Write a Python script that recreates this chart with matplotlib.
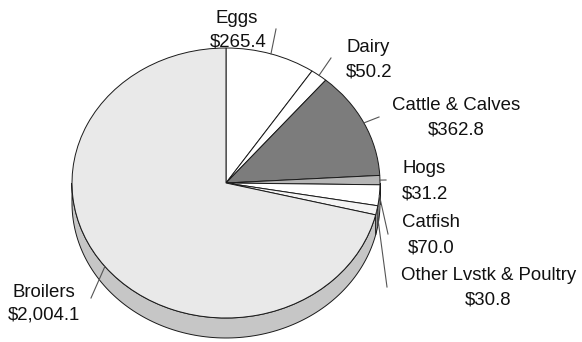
import numpy as np
import matplotlib
matplotlib.use('Agg')
import matplotlib.pyplot as plt
from matplotlib.transforms import Affine2D

# 数据 (百万美元)
categories = ['Eggs', 'Dairy', 'Cattle & Calves', 'Hogs', 'Catfish',
              'Other Lvstk & Poultry', 'Broilers']
values = [265.4, 50.2, 362.8, 31.2, 70.0, 30.8, 2004.1]
value_labels = ['$265.4', '$50.2', '$362.8', '$31.2', '$70.0', '$30.8', '$2,004.1']

# 配色
top_colors = ['#ffffff', '#ffffff', '#7c7c7c', '#b5b5b5', '#ffffff', '#f4f4f4', '#e9e9e9']
side_colors = ['#e0e0e0', '#e0e0e0', '#5a5a5a', '#8f8f8f', '#d8d8d8', '#bdbdbd', '#c6c6c6']

# 椭圆饼图几何 (像素)
CX, CY, RX, RY, DEPTH = 226, 183, 154, 135, 20

# 标签布局: (名称位置, 数值位置, 对齐, 引线外端)
label_layout = [
    ((237, 23), (238, 47), 'center', (276, 29)),
    ((346, 52), (346, 76), 'left', (331, 58)),
    ((392, 110), (456, 135), 'mix', (379, 117)),
    ((402, 173), (402, 199), 'left', (386, 180)),
    ((402, 227), (431, 252), 'mix', (388, 234)),
    ((401, 280), (488, 305), 'mix', (387, 287)),
    ((44, 297), (44, 320), 'center', (91, 298)),
]

plt.rcParams['font.family'] = ['Liberation Sans', 'DejaVu Sans']

fig = plt.figure(figsize=(5.82, 3.42), dpi=100)
ax = fig.add_axes([0, 0, 1, 1])

wedges, _ = ax.pie(values, startangle=90, counterclock=False, colors=top_colors,
                   wedgeprops=dict(edgecolor='#1a1a1a', linewidth=0.7))
ax.set_aspect('auto')
ax.set_xlim(0, 582)
ax.set_ylim(342, 0)
ax.axis('off')

to_px = Affine2D().scale(RX, -RY).translate(CX, CY) + ax.transData
for w in wedges:
    w.set_transform(to_px)
    w.set_zorder(3)


def ell(theta_deg, dy=0):
    t = np.radians(theta_deg)
    return CX + RX * np.cos(t), CY - RY * np.sin(t) + dy


# 侧面 (只画下半圈可见部分)
for w, sc in zip(wedges, side_colors):
    a, b = w.theta1, w.theta2
    shift = np.floor((a + 180) / 360) * 360
    a, b = a - shift, b - shift
    for lo, hi in [(-180, 0), (180, 360)]:
        s, e = max(a, lo), min(b, hi)
        if e <= s:
            continue
        th = np.linspace(s, e, 120)
        xt, yt = ell(th)
        xb, yb = ell(th[::-1], DEPTH)
        ax.fill(np.r_[xt, xb], np.r_[yt, yb], facecolor=sc,
                edgecolor='#1a1a1a', linewidth=0.7, zorder=2)

# 标签和引线
for w, name, val, (p1, p2, align, tip) in zip(wedges, categories, value_labels, label_layout):
    mid = (w.theta1 + w.theta2) / 2
    ex, ey = ell(mid)
    ax.plot([tip[0], ex], [tip[1], ey], color='#555555', linewidth=0.8, zorder=4)
    ha1 = 'left' if align in ('left', 'mix') else 'center'
    ha2 = 'left' if align == 'left' else 'center'
    ax.text(p1[0], p1[1], name, ha=ha1, va='baseline', fontsize=13.4, color='#111111')
    ax.text(p2[0], p2[1], val, ha=ha2, va='baseline', fontsize=13.4, color='#111111')

fig.savefig('out.png', dpi=100, facecolor='white')
